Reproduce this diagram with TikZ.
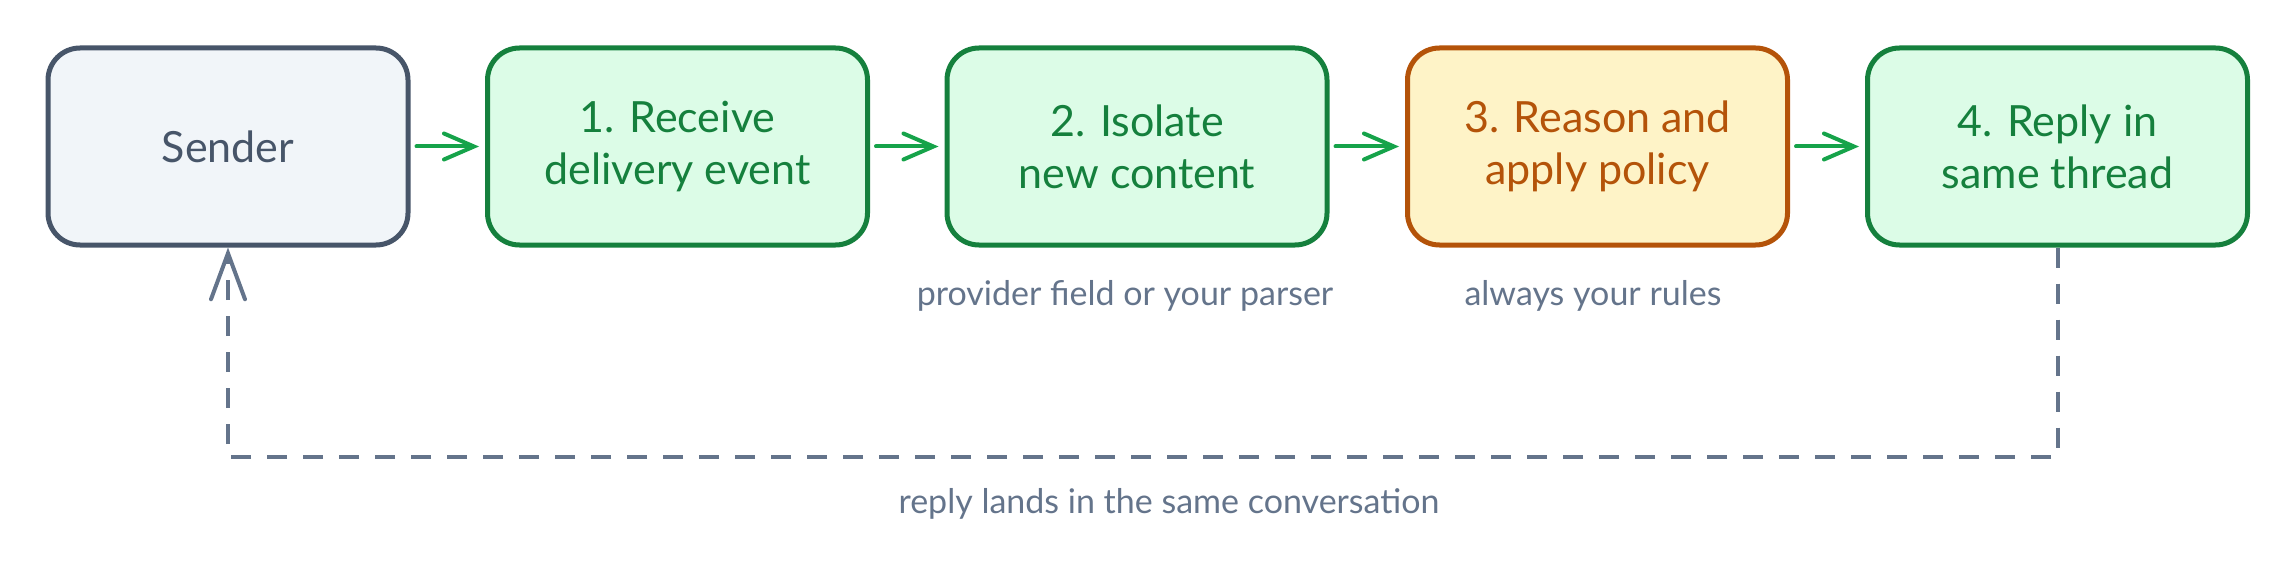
\documentclass[tikz,border=0pt]{standalone}
\usepackage{fontspec}
\setmainfont{Lato}
\usetikzlibrary{arrows.meta}
\definecolor{slatestroke}{HTML}{475569}
\definecolor{slatefill}{HTML}{F1F5F9}
\definecolor{greenstroke}{HTML}{15803D}
\definecolor{greenfill}{HTML}{DCFCE7}
\definecolor{greenarrow}{HTML}{16A34A}
\definecolor{orangestroke}{HTML}{B45309}
\definecolor{orangefill}{HTML}{FEF3C7}
\definecolor{graytext}{HTML}{64748B}
\tikzset{
  boxbase/.style={draw, rounded corners=32pt, line width=5pt, minimum height=197pt,
    minimum width=380pt, align=center, inner sep=0pt,
    font=\fontsize{43}{52}\selectfont},
  senderbox/.style={boxbase, minimum width=360pt, draw=slatestroke, fill=slatefill, text=slatestroke},
  greenbox/.style={boxbase, draw=greenstroke, fill=greenfill, text=greenstroke},
  orangebox/.style={boxbase, draw=orangestroke, fill=orangefill, text=orangestroke},
  garrow/.style={draw=greenarrow, line width=4pt, line cap=round,
    -{Straight Barb[length=30pt,width=26pt,line cap=round]},
    shorten <=6pt, shorten >=6pt},
  dashline/.style={draw=graytext, line width=4pt, dash pattern=on 20pt off 16pt,
    -{Straight Barb[length=46pt,width=34pt,line cap=round]}},
  lbl/.style={text=graytext, font=\fontsize{34}{40}\selectfont, inner sep=0pt}
}
\begin{document}
\begin{tikzpicture}[x=1pt,y=-1pt]
\useasboundingbox (0,0) rectangle (2296,572);
\node[senderbox] (s) at (228,146.5) {Sender};
\node[greenbox] (b1) at (677.5,146.5) {1. Receive\\delivery event};
\node[greenbox] (b2) at (1137,146.5) {2. Isolate\\new content};
\node[orangebox] (b3) at (1597.5,146.5) {3. Reason and\\apply policy};
\node[greenbox] (b4) at (2057.5,146.5) {4. Reply in\\same thread};
\draw[garrow] (s) -- (b1);
\draw[garrow] (b1) -- (b2);
\draw[garrow] (b2) -- (b3);
\draw[garrow] (b3) -- (b4);
\node[lbl] (l2) at (1125,296) {provider field or your parser};
\node[lbl] (l3) at (1593,296) {always your rules};
\coordinate (c1) at (2057.5,457);
\coordinate (c2) at (228,457);
\draw[dashline] (b4.south) -- (c1) -- (c2) -- (s.south);
\node[lbl] (lr) at (1169,504) {reply lands in the same conversation};
\end{tikzpicture}
\end{document}
